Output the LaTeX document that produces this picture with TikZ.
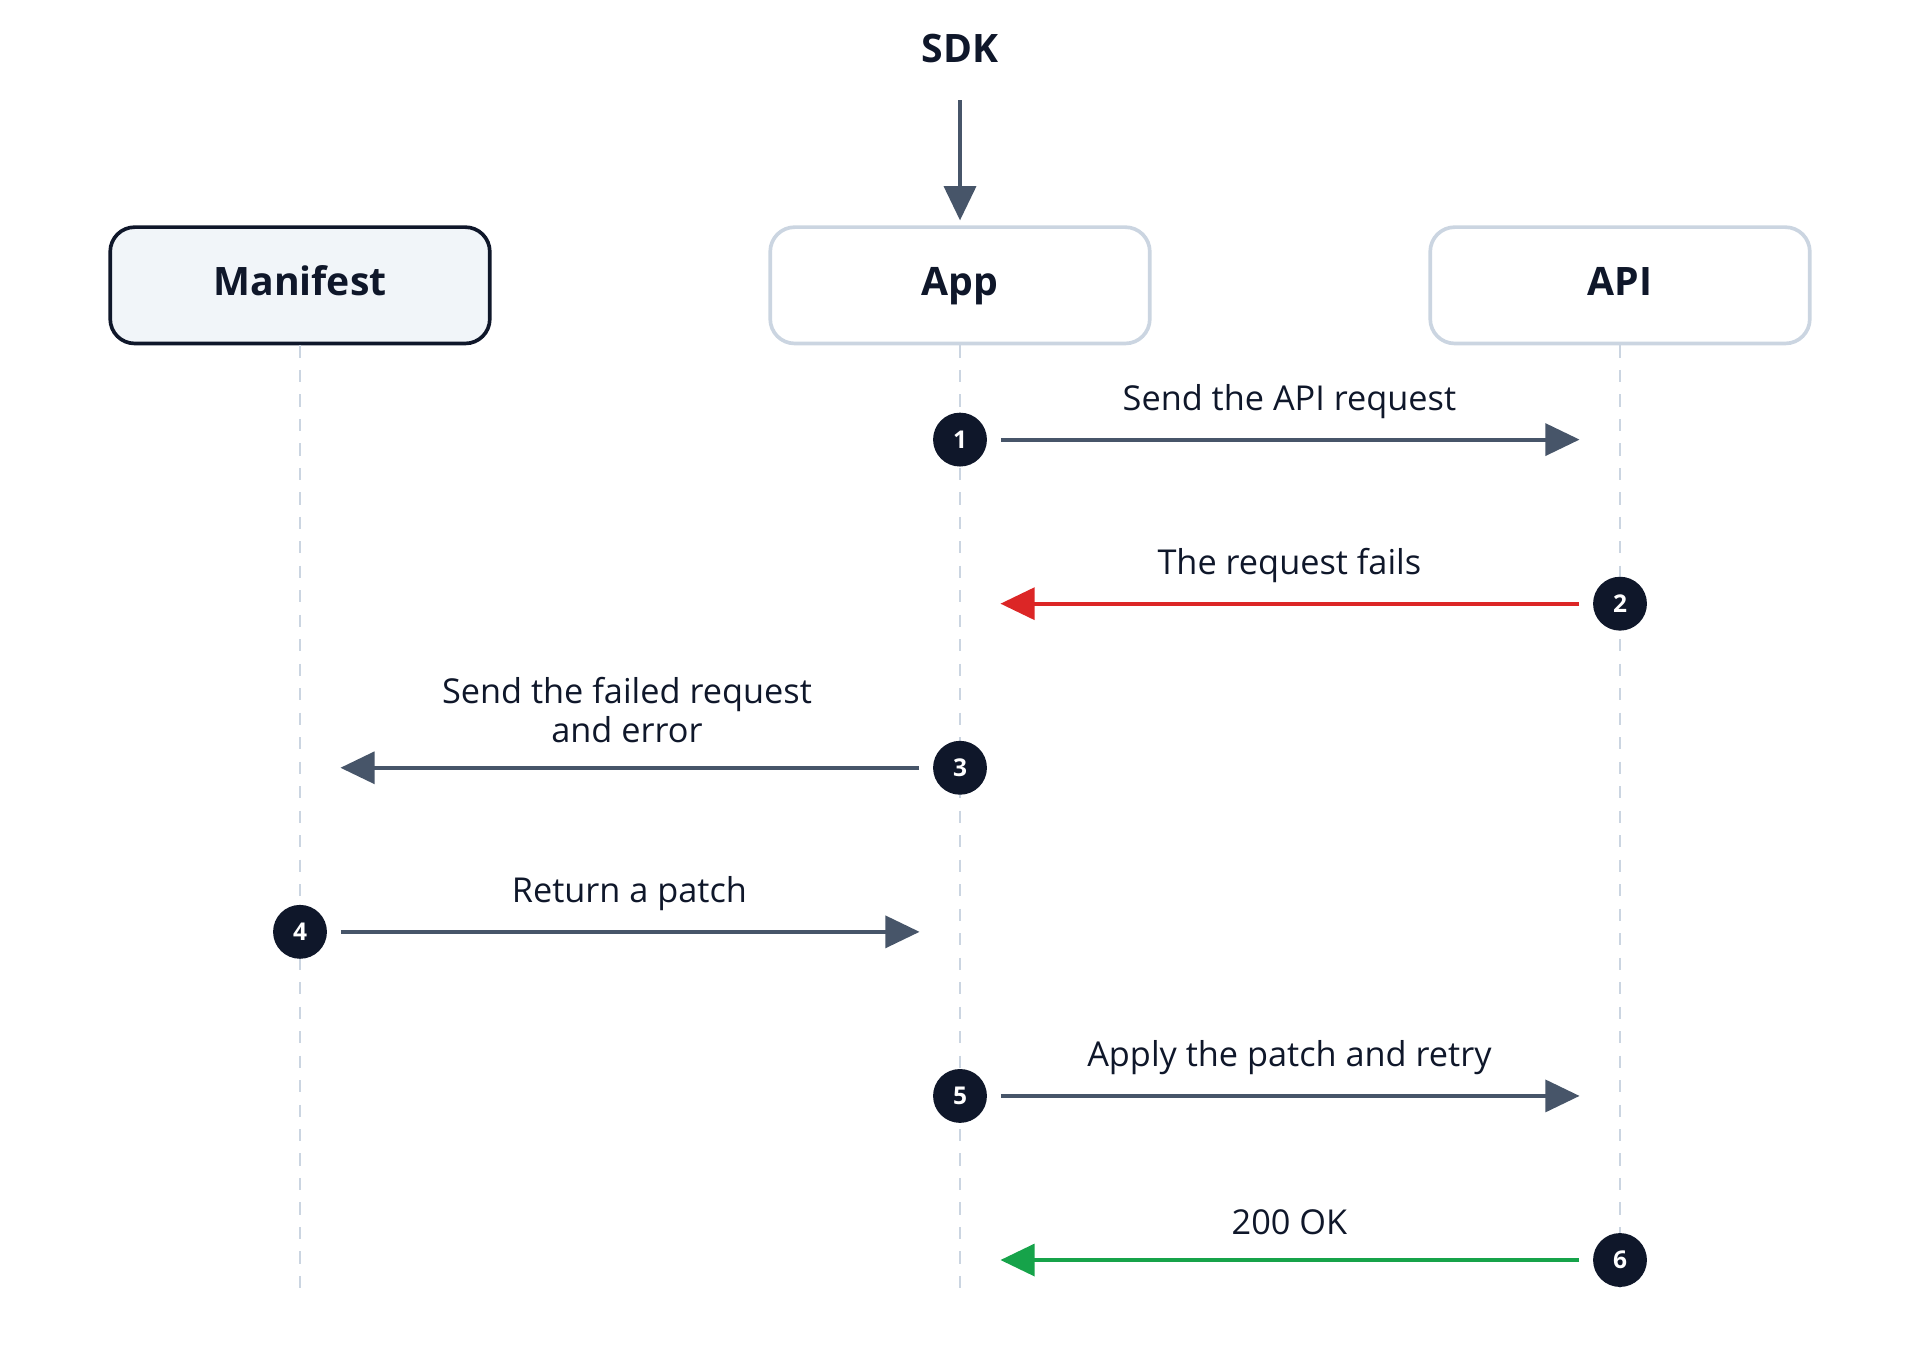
\documentclass[tikz,border=0pt]{standalone}
\usepackage{fontspec}
\setmainfont{Open Sans}
\usetikzlibrary{arrows.meta}
\definecolor{dark}{HTML}{0F172A}
\definecolor{slate}{HTML}{475569}
\definecolor{light}{HTML}{CBD5E1}
\definecolor{mfill}{HTML}{F1F5F9}
\definecolor{red}{HTML}{DC2626}
\definecolor{green}{HTML}{16A34A}
\begin{document}
\begin{tikzpicture}[x=0.5pt,y=-0.5pt,
  actor/.style={draw=light,line width=1.5pt,rounded corners=10pt,minimum width=155pt,minimum height=47.5pt,text height=12pt,text depth=4pt,fill=white,font=\fontsize{16}{18}\selectfont\bfseries,text=dark},
  life/.style={draw=light,line width=1.2pt,dash pattern=on 5pt off 5pt},
  stepnum/.style={circle,fill=dark,text=white,minimum size=22pt,inner sep=0pt,font=\fontsize{10}{12}\selectfont\bfseries},
  msg/.style={line width=1.7pt,draw=slate,-{Triangle[length=14pt,width=13pt]}},
  lbl/.style={font=\fontsize{14}{16}\selectfont,text=dark,align=center}]
\useasboundingbox (0,0) rectangle (1568,1110);
\node[font=\fontsize{16}{18}\selectfont\bfseries,text=dark] (sdk) at (784,40) {SDK};
\coordinate (sdkt) at (784,82);
\node[actor,fill=mfill,draw=dark] (man) at (245,233) {Manifest};
\node[actor] (app) at (784,233) {App};
\node[actor] (api) at (1323,233) {API};
\coordinate (manb) at (245,1055);
\coordinate (appb) at (784,1055);
\coordinate (apib) at (1323,1055);
\draw[life] (man.south) -- (manb);
\draw[life] (app.south) -- (appb);
\draw[life] (api.south) -- (apib);
\draw[msg,shorten >=2pt] (sdkt) -- (app.north);
\node[stepnum] (s1) at (784,359) {1};
\node[stepnum] (s2) at (1323,493) {2};
\node[stepnum] (s3) at (784,627) {3};
\node[stepnum] (s4) at (245,761) {4};
\node[stepnum] (s5) at (784,895) {5};
\node[stepnum] (s6) at (1323,1029) {6};
\coordinate (e1) at (1290,359);
\coordinate (e2) at (817,493);
\coordinate (e3) at (278,627);
\coordinate (e4) at (751,761);
\coordinate (e5) at (1290,895);
\coordinate (e6) at (817,1029);
\draw[msg,shorten <=5.5pt] (s1) -- (e1);
\draw[msg,draw=red,shorten <=5.5pt] (s2) -- (e2);
\draw[msg,shorten <=5.5pt] (s3) -- (e3);
\draw[msg,shorten <=5.5pt] (s4) -- (e4);
\draw[msg,shorten <=5.5pt] (s5) -- (e5);
\draw[msg,draw=green,shorten <=5.5pt] (s6) -- (e6);
\node[lbl] (l1) at (1053,328) {Send the API request};
\node[lbl] (l2) at (1053,462) {The request fails};
\node[lbl] (l3) at (512,580) {Send the failed request\\and error};
\node[lbl] (l4) at (514,730) {Return a patch};
\node[lbl] (l5) at (1053,864) {Apply the patch and retry};
\node[lbl] (l6) at (1053,998) {200 OK};
\end{tikzpicture}
\end{document}
